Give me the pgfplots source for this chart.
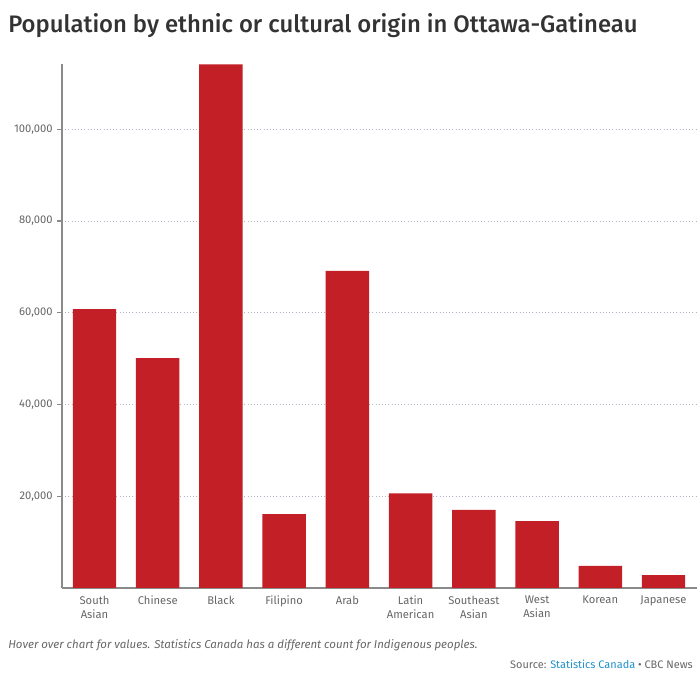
\documentclass[border=0pt]{standalone}
\usepackage{fontspec}
\setmainfont{Fira Sans}
\newfontfamily\titlefont{Fira Sans}[UprightFont=* Medium]
\usepackage{pgfplots}
\pgfplotsset{compat=1.18}

\definecolor{barred}{HTML}{C21F26}
\definecolor{titlegray}{HTML}{333333}
\definecolor{tickgray}{HTML}{666666}
\definecolor{axisgray}{HTML}{8A8A8A}
\definecolor{gridblue}{HTML}{AEB4C8}
\definecolor{linkblue}{HTML}{1F8FCB}

\begin{document}
\begin{tikzpicture}[x=0.75pt,y=0.75pt]
\path[use as bounding box] (0,0) rectangle (700,682);

% title
\node[anchor=base west, inner sep=0pt, text=titlegray, font=\titlefont\fontsize{17.9}{20}\selectfont]
  at (8,682-33) {Population by ethnic or cultural origin in Ottawa-Gatineau};

\begin{axis}[
    at={(46.5pt,70.5pt)}, anchor=south west,
    scale only axis,
    width=476.25pt, height=393pt,
    xmin=-0.514, xmax=9.53,
    ymin=0, ymax=114200,
    axis x line*=bottom, axis y line*=left,
    axis line style={axisgray, line width=0.9pt, -},
    xtick={0,...,9},
    xticklabels={{South\\Asian},Chinese,Black,Filipino,Arab,{Latin\\American},{Southeast\\Asian},{West\\Asian},Korean,Japanese},
    xticklabel style={align=center, text=tickgray, font=\fontsize{8.4}{10.5}\selectfont, yshift=1pt},
    major x tick style={draw=none},
    ytick={20000,40000,60000,80000,100000},
    yticklabel style={text=tickgray, font=\fontsize{8.4}{10}\selectfont},
    /pgf/number format/assume math mode=true,
    /pgf/number format/fixed,
    /pgf/number format/1000 sep={,},
    scaled y ticks=false,
    tick align=outside,
    major tick length=3.5pt,
    major y tick style={axisgray, line width=0.9pt},
    ymajorgrids,
    grid style={gridblue, dotted, line width=0.6pt},
    ybar, bar width=32.6pt, bar shift=0pt,
    clip=false,
]
\addplot[fill=barred, draw=none] coordinates {
(0,60800) (1,50100) (2,114100) (3,16100) (4,69100)
(5,20600) (6,17000) (7,14550) (8,4800) (9,2830)
};
\end{axis}

% footnote
\node[anchor=base west, inner sep=0pt, text=tickgray, font=\itshape\fontsize{8.6}{10}\selectfont]
  at (8,682-649) {Hover over chart for values. Statistics Canada has a different count for Indigenous peoples.};
\node[anchor=base east, inner sep=0pt, text=tickgray, font=\fontsize{8.2}{10}\selectfont]
  at (693,682-669) {Source: \textcolor{linkblue}{Statistics Canada} \textbullet{} CBC News};
\end{tikzpicture}
\end{document}
